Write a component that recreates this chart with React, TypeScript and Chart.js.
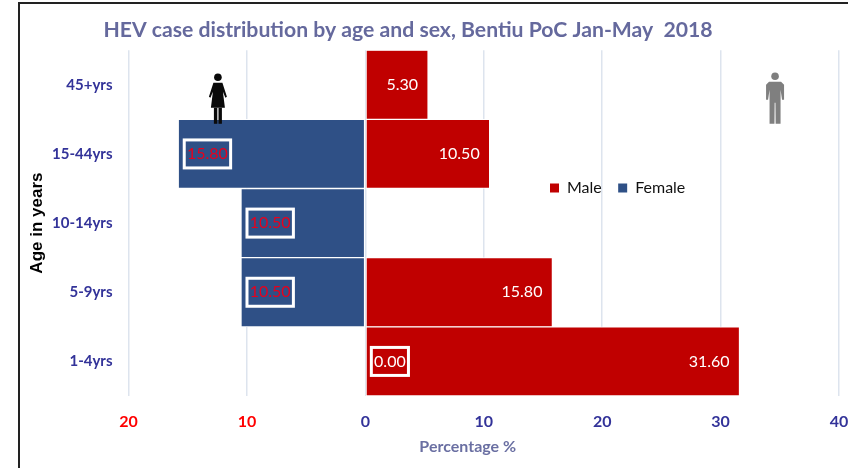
import React, { useEffect, useRef } from "react";
import { Chart, registerables } from "chart.js";

Chart.register(...registerables);

const categories = ["45+yrs", "15-44yrs", "10-14yrs", "5-9yrs", "1-4yrs"];
const maleValues = [5.3, 10.5, null, 15.8, 31.6];
const femaleValues = [null, -15.8, -10.5, -10.5, 0];
const xTicks = { min: -20, max: 40, step: 10 };

const TITLE = "HEV case distribution by age and sex, Bentiu PoC Jan-May  2018";
const BLUE = "#333399";
const FONT = "Lato";

const framePlugin = {
  id: "frame",
  beforeDraw(chart: any) {
    const { ctx, width, height } = chart;
    ctx.save();
    ctx.strokeStyle = "#222222";
    ctx.lineWidth = 2;
    ctx.beginPath();
    ctx.moveTo(19, height);
    ctx.lineTo(19, 3);
    ctx.lineTo(width, 3);
    ctx.stroke();
    ctx.restore();
  },
};

const layoutTweaks = {
  id: "layoutTweaks",
  afterLayout(chart: any) {
    const t = chart.titleBlock;
    t.left = -16;
    t.right = chart.width - 16;
    t.top = 20;
    t.bottom = 42;
    const l = chart.legend;
    l.left = 550;
    l.right = 760;
    l.top = 180;
    l.bottom = 198;
    const xs = chart.scales.x;
    if (!xs.__patched) {
      xs.__patched = true;
      const orig = xs.drawTitle;
      xs.drawTitle = function (...a: any[]) {
        const c = this.ctx;
        c.save();
        c.translate(-16, 0);
        orig.apply(this, a);
        c.restore();
      };
    }
  },
};

function drawPerson(ctx: any, cx: number, cy: number, color: string, female: boolean) {
  ctx.save();
  ctx.fillStyle = color;
  ctx.translate(cx, cy);
  ctx.beginPath();
  ctx.arc(0, -21.5, 3.8, 0, Math.PI * 2);
  ctx.fill();
  ctx.beginPath();
  if (female) {
    ctx.moveTo(-4.5, -16);
    ctx.lineTo(4.5, -16);
    ctx.lineTo(9, -2);
    ctx.lineTo(7.5, -1);
    ctx.lineTo(5, -7);
    ctx.lineTo(7, 9);
    ctx.lineTo(-7, 9);
    ctx.lineTo(-5, -7);
    ctx.lineTo(-7.5, -1);
    ctx.lineTo(-9, -2);
    ctx.closePath();
    ctx.fill();
    ctx.fillRect(-4, 9, 3.4, 16);
    ctx.fillRect(0.6, 9, 3.4, 16);
  } else {
    ctx.moveTo(-6, -16);
    ctx.lineTo(6, -16);
    ctx.lineTo(9, -13);
    ctx.lineTo(9, 2);
    ctx.lineTo(7, 2);
    ctx.lineTo(5.5, -8);
    ctx.lineTo(5.5, 26);
    ctx.lineTo(0.6, 26);
    ctx.lineTo(0.4, 5);
    ctx.lineTo(-0.4, 5);
    ctx.lineTo(-0.6, 26);
    ctx.lineTo(-5.5, 26);
    ctx.lineTo(-5.5, -8);
    ctx.lineTo(-7, 2);
    ctx.lineTo(-9, 2);
    ctx.lineTo(-9, -13);
    ctx.closePath();
    ctx.fill();
  }
  ctx.restore();
}

const iconsPlugin = {
  id: "icons",
  afterDatasetsDraw(chart: any) {
    const { ctx, scales } = chart;
    const y = scales.y.getPixelForValue(0) + 14;
    drawPerson(ctx, scales.x.getPixelForValue(-12.45), y, "#0a0a0a", true);
    drawPerson(ctx, scales.x.getPixelForValue(34.6), y - 1, "#7f7f7f", false);
  },
};

const labelsPlugin = {
  id: "barLabels",
  afterDatasetsDraw(chart: any) {
    const { ctx, scales } = chart;
    const zero = scales.x.getPixelForValue(0);
    ctx.save();
    ctx.font = `16px ${FONT}`;
    ctx.textBaseline = "middle";
    chart.data.datasets.forEach((ds: any, di: number) => {
      const meta = chart.getDatasetMeta(di);
      ds.data.forEach((v: number | null, i: number) => {
        if (v === null) return;
        const el = meta.data[i];
        const text = Math.abs(v).toFixed(2);
        const boxed = di === 1;
        if (!boxed) {
          ctx.fillStyle = "#ffffff";
          ctx.textAlign = "right";
          ctx.fillText(text, el.x - 10, el.y);
          return;
        }
        const w = ctx.measureText(text).width + 5.5;
        const left = (v < 0 ? el.x : zero) + 6;
        ctx.strokeStyle = "#ffffff";
        ctx.lineWidth = 3;
        ctx.strokeRect(left, el.y - 14, w, 28);
        ctx.fillStyle = v === 0 ? "#ffffff" : "#e8001c";
        ctx.textAlign = "center";
        ctx.fillText(text, left + w / 2, el.y);
      });
    });
    ctx.restore();
  },
};

export default function App() {
  const ref = useRef<HTMLCanvasElement>(null);
  useEffect(() => {
    const chart = new Chart(ref.current as HTMLCanvasElement, {
      type: "bar",
      data: {
        labels: categories,
        datasets: [
          { label: "Male", data: maleValues, backgroundColor: "#c00000", borderColor: "#ffffff", borderWidth: 1, borderSkipped: false },
          { label: "Female", data: femaleValues, backgroundColor: "#2f5086", borderColor: "#ffffff", borderWidth: 1, borderSkipped: false },
        ],
      } as any,
      options: {
        indexAxis: "y",
        animation: false,
        responsive: false,
        layout: { padding: { left: 20, right: 9, top: 3, bottom: 0 } },
        datasets: { bar: { barPercentage: 1, categoryPercentage: 1 } },
        scales: {
          x: {
            stacked: true,
            min: xTicks.min,
            max: xTicks.max,
            afterFit: (s: any) => { s.height = 72; s.paddingRight = 0; s.paddingLeft = 0; },
            grid: { color: "#dde4ee", lineWidth: 1.5, drawTicks: false },
            border: { display: false },
            ticks: {
              stepSize: xTicks.step,
              padding: 16,
              maxRotation: 0,
              callback: (v: any) => String(Math.abs(Number(v))),
              color: (c: any) => (c.tick.value < 0 ? "#ff0000" : BLUE),
              font: { family: FONT, size: 16, weight: "bold" },
            },
            title: {
              display: true,
              text: "Percentage %",
              color: "#6a6fa2",
              font: { family: FONT, size: 16, weight: "bold" },
              padding: { top: 4, bottom: 12 },
            },
          },
          y: {
            stacked: true,
            afterFit: (s: any) => { s.width = 108.5; s.paddingTop = 0; s.paddingBottom = 0; },
            grid: { display: false, drawTicks: false },
            border: { display: false },
            ticks: {
              padding: 16,
              color: BLUE,
              font: { family: FONT, size: 15, weight: "bold" },
            },
            title: {
              display: true,
              text: "Age in years",
              color: "#000000",
              font: { family: "Liberation Sans", size: 17, weight: "bold" },
              padding: { top: 7, bottom: 0 },
            },
          },
        } as any,
        plugins: {
          title: {
            display: true,
            text: TITLE,
            color: "#65699d",
            font: { family: FONT, size: 21.2, weight: "bold", lineHeight: 1 },
            padding: { top: 0, bottom: 0 },
          },
          legend: {
            display: true,
            position: "top",
            align: "start",
            labels: {
              boxWidth: 9,
              boxHeight: 9,
              padding: 0,
              color: "#111111",
              font: { family: FONT, size: 16 },
              generateLabels: (c: any) =>
                Chart.defaults.plugins.legend.labels.generateLabels(c).map((it: any) => ({ ...it, lineWidth: 0, text: it.text + "    " })),
            },
          },
          tooltip: { enabled: false },
        },
      } as any,
      plugins: [framePlugin, layoutTweaks, labelsPlugin, iconsPlugin],
    });
    return () => chart.destroy();
  }, []);
  return (
    <div style={{ position: "fixed", left: 0, top: 0, width: 848, height: 468, background: "#ffffff" }}>
      <canvas ref={ref} width={848} height={468} style={{ display: "block" }} />
    </div>
  );
}
